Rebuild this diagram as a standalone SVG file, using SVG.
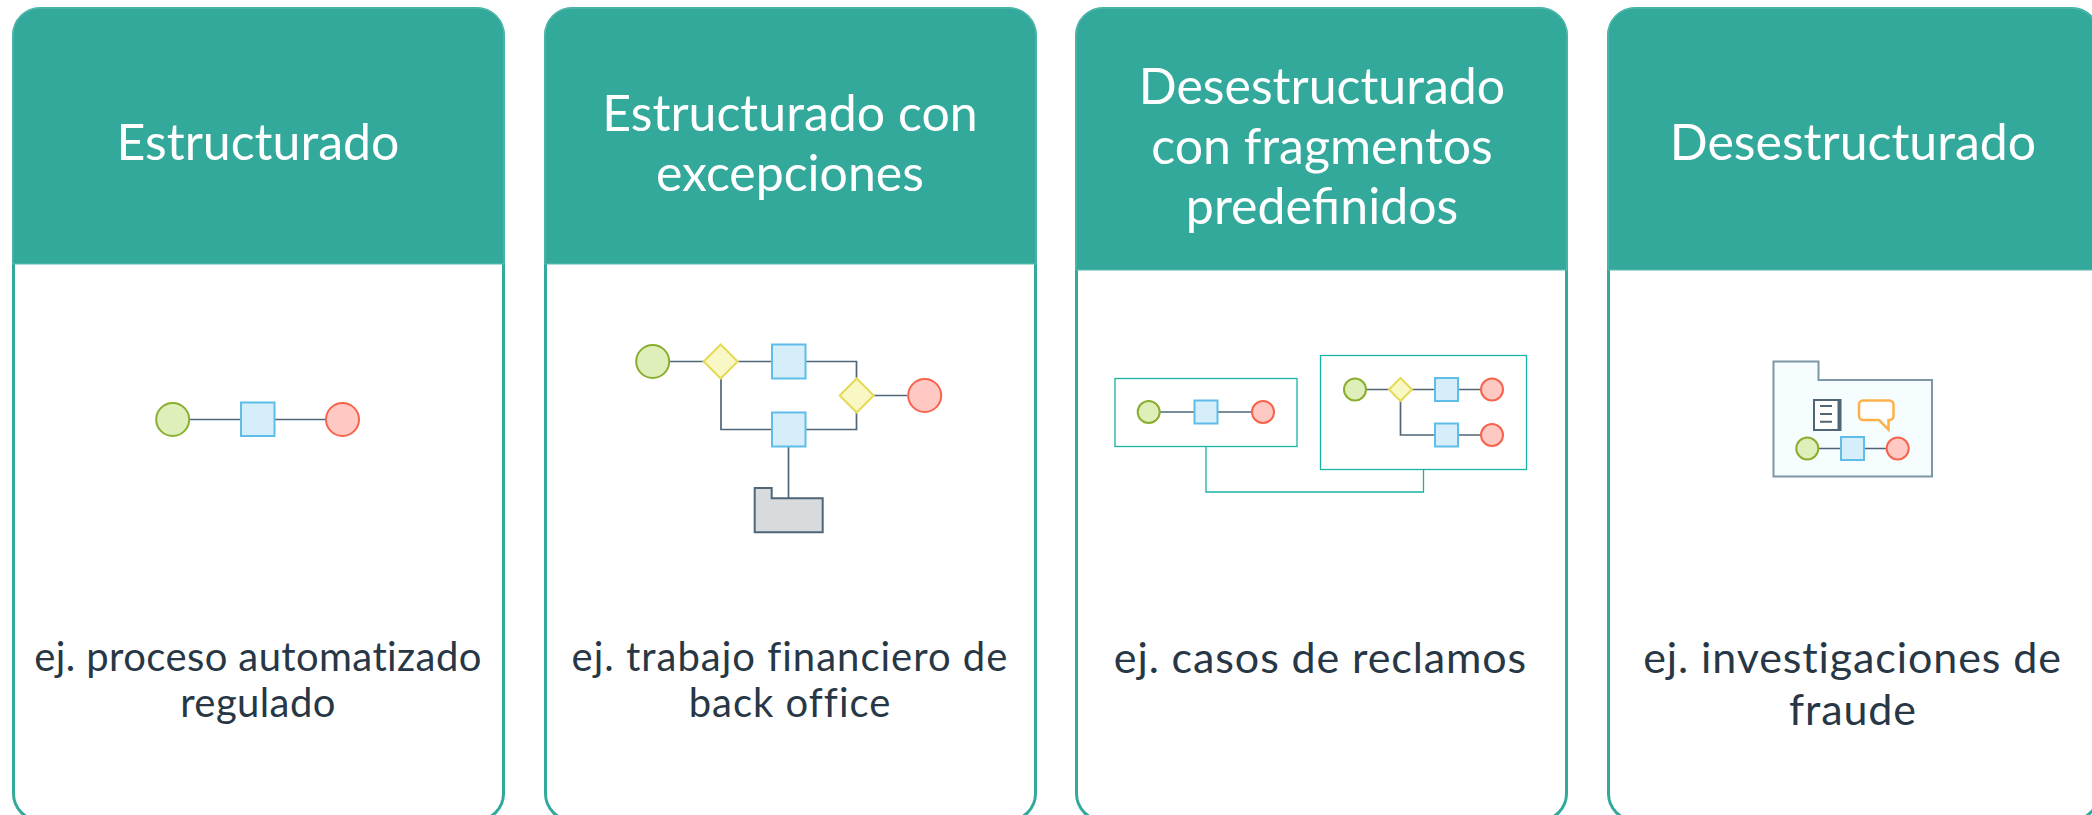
<svg xmlns="http://www.w3.org/2000/svg" width="2092" height="815" viewBox="0 0 2092 815">
<style>
.card{fill:#fff;stroke:#33a99c;stroke-width:3}
.hdr{fill:#33a99c;stroke:#5cbcb1;stroke-width:1}
.h{font-family:"Lato","Noto Sans",sans-serif;font-size:50px;fill:#fff;text-anchor:middle}
.b{font-family:"Lato","Noto Sans",sans-serif;font-size:40px;fill:#283745;text-anchor:middle;letter-spacing:1px}
.b2{font-size:43px;letter-spacing:.9px}
.st{fill:#deefb9;stroke:#8aae2f;stroke-width:2}
.en{fill:#ffc9c3;stroke:#f7634d;stroke-width:2}
.ta{fill:#d6eef9;stroke:#5ebde9;stroke-width:2}
.gw{fill:#f9f8c5;stroke:#e4da55;stroke-width:2}
.ln{fill:none;stroke:#4f6679;stroke-width:1.700}
.fr{fill:#fff;stroke:#18b3a5;stroke-width:1.300}
.wire{fill:none;stroke:#18b3a5;stroke-width:1.300}
</style>
<g id="card-1">
<rect class="card" x="13.500" y="8.500" width="490" height="812" rx="27"/>
<path class="hdr" d="M13 264V35a27 27 0 0 1 27-27H477a27 27 0 0 1 27 27V264Z"/>
<text class="h" x="258" y="160">Estructurado</text>
<text class="b" x="258" y="671" style="letter-spacing:.4px">ej. proceso automatizado</text>
<text class="b" x="258" y="717" style="letter-spacing:.4px">regulado</text>
</g>
<g id="card-2">
<rect class="card" x="545.500" y="8.500" width="490" height="812" rx="27"/>
<path class="hdr" d="M545 264V35a27 27 0 0 1 27-27H1009a27 27 0 0 1 27 27V264Z"/>
<text class="h" x="790" y="131">Estructurado con</text>
<text class="h" x="790" y="191">excepciones</text>
<text class="b" x="790" y="671">ej. trabajo financiero de</text>
<text class="b" x="790" y="717">back office</text>
</g>
<g id="card-3">
<rect class="card" x="1076.500" y="8.500" width="490" height="812" rx="27"/>
<path class="hdr" d="M1076 270V35a27 27 0 0 1 27-27H1540a27 27 0 0 1 27 27V270Z"/>
<text class="h" x="1322" y="104">Desestructurado</text>
<text class="h" x="1322" y="164">con fragmentos</text>
<text class="h" x="1322" y="224">predefinidos</text>
<text class="b b2" x="1320.500" y="673">ej. casos de reclamos</text>
</g>
<g id="card-4">
<rect class="card" x="1608.500" y="8.500" width="490" height="812" rx="27"/>
<path class="hdr" d="M1608 270V35a27 27 0 0 1 27-27H2071a27 27 0 0 1 27 27V270Z"/>
<text class="h" x="1853" y="160">Desestructurado</text>
<text class="b b2" x="1852.500" y="673">ej. investigaciones de</text>
<text class="b b2" x="1853" y="725">fraude</text>
</g>
<g id="frame-a"><rect class="fr" x="1115" y="378.500" width="182" height="68"/></g>
<g id="frame-b"><rect class="fr" x="1320.500" y="355.500" width="206" height="114"/></g>
<g id="folder-4"><path d="M1773.500 361.500H1818.500V380H1932V476.500H1773.500Z" fill="#f5fdfe" stroke="#7f97a5" stroke-width="2"/></g>
<g id="connectors">
<path class="ln" d="M190 419.500H340"/>
<path class="ln" d="M670 361.500H788M806 361.500H856.500V378M721 378V429.500H856.500V412M874 395.500H907M788.500 447V498"/>
<path class="ln" d="M1160 412H1252"/>
<path class="ln" d="M1366 389.500H1481M1400.500 401V435H1481"/>
<path class="ln" d="M1819 448.500H1886"/>
<path class="wire" d="M1206 446.500V492H1423.500V469.500"/>
</g>
<g id="c1-start"><circle class="st" cx="172.700" cy="419.500" r="16.500"/></g>
<g id="c1-task"><rect class="ta" x="241" y="402.500" width="33.500" height="33.500"/></g>
<g id="c1-end"><circle class="en" cx="342.500" cy="419.500" r="16.500"/></g>
<g id="c2-start"><circle class="st" cx="652.700" cy="361.500" r="16.500"/></g>
<g id="c2-gw1"><path class="gw" d="M720.700 344.500L737.700 361.500L720.700 378.500L703.700 361.500Z"/></g>
<g id="c2-task1"><rect class="ta" x="772" y="344.500" width="33.500" height="34"/></g>
<g id="c2-gw2"><path class="gw" d="M856.700 378.500L873.700 395.500L856.700 412.500L839.700 395.500Z"/></g>
<g id="c2-end"><circle class="en" cx="924.700" cy="395.500" r="16.500"/></g>
<g id="c2-task2"><rect class="ta" x="772" y="412.500" width="33.500" height="34"/></g>
<g id="c2-data"><path d="M754.700 488H771.700V498.300H822.700V532.300H754.700Z" fill="#d7dbde" stroke="#4f6679" stroke-width="2"/></g>
<g id="c3a-start"><circle class="st" cx="1148.700" cy="412" r="11"/></g>
<g id="c3a-task"><rect class="ta" x="1194.500" y="400.500" width="23" height="23"/></g>
<g id="c3a-end"><circle class="en" cx="1263" cy="412" r="11"/></g>
<g id="c3b-start"><circle class="st" cx="1355" cy="389.500" r="11"/></g>
<g id="c3b-gw"><path class="gw" d="M1400.500 378L1412 389.500L1400.500 401L1389 389.500Z"/></g>
<g id="c3b-task1"><rect class="ta" x="1435" y="378" width="23" height="23"/></g>
<g id="c3b-end1"><circle class="en" cx="1492" cy="389.500" r="11"/></g>
<g id="c3b-task2"><rect class="ta" x="1435" y="423.500" width="23" height="23"/></g>
<g id="c3b-end2"><circle class="en" cx="1492" cy="435" r="11"/></g>
<g id="c4-doc"><rect x="1814" y="400" width="26.500" height="30" fill="#fff" stroke="#4f6679" stroke-width="2"/><path d="M1839 400V430" stroke="#4f6679" stroke-width="3" fill="none"/><path d="M1820 406H1832M1820 414H1832M1820 421.700H1832" stroke="#4f6679" stroke-width="2" fill="none"/></g>
<g id="c4-note"><path d="M1863 400.500H1889.500a4 4 0 0 1 4 4V416a4 4 0 0 1-4 4H1888.500V429.500L1879 420H1863a4 4 0 0 1-4-4V404.500a4 4 0 0 1 4-4Z" fill="#fff" stroke="#fdb04a" stroke-width="2.500"/></g>
<g id="c4-start"><circle class="st" cx="1807.300" cy="448.500" r="11"/></g>
<g id="c4-task"><rect class="ta" x="1841" y="437" width="23" height="23"/></g>
<g id="c4-end"><circle class="en" cx="1897.700" cy="448.500" r="11"/></g>
</svg>
